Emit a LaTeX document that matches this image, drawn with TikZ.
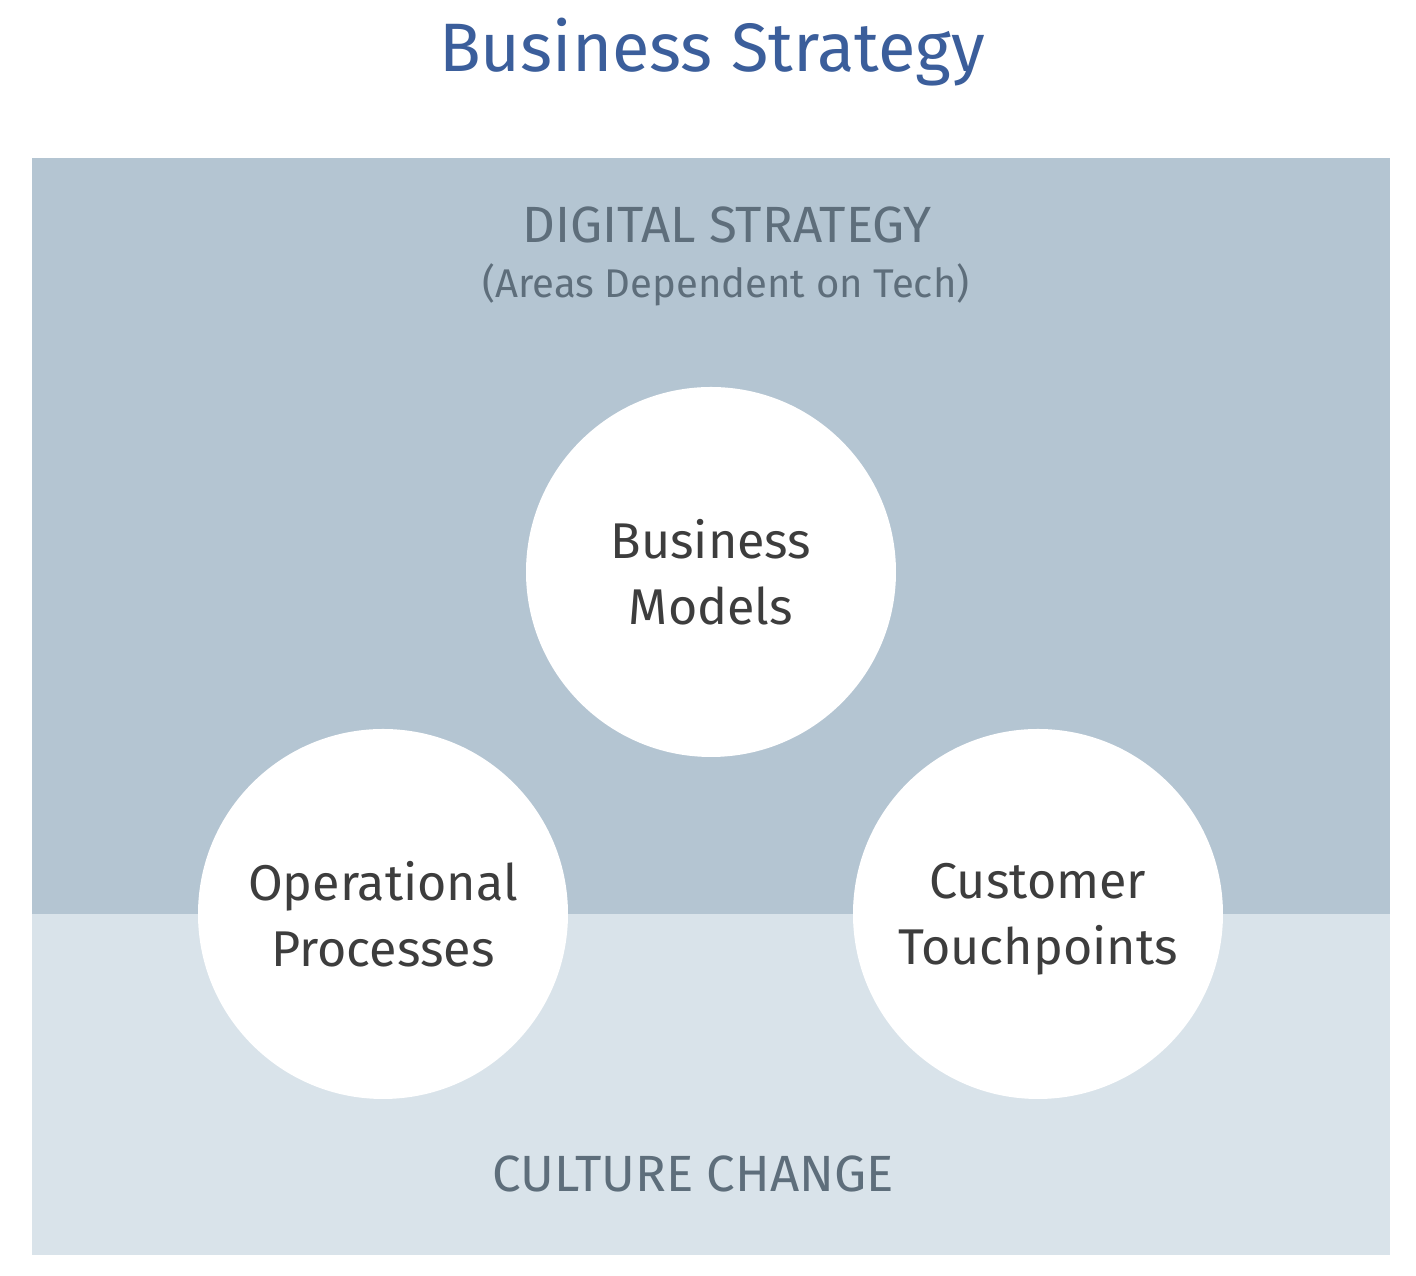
\documentclass[tikz,border=0pt]{standalone}
\usepackage{fontspec}
\setmainfont{Fira Sans}
\usetikzlibrary{positioning}
\definecolor{stratblue}{HTML}{3B5E9B}
\definecolor{digitalband}{HTML}{B4C5D2}
\definecolor{cultureband}{HTML}{D9E3EA}
\definecolor{labelgrey}{HTML}{5E6E7B}
\definecolor{circletext}{HTML}{3D3D3D}

\begin{document}
\begin{tikzpicture}
  \tikzset{
    area/.style={circle, fill=white, minimum size=3.7cm, inner sep=0pt,
      align=center, text=circletext, text depth=0pt,
      font=\fontsize{14.3}{18.8}\selectfont},
    bandlabel/.style={anchor=base, text=labelgrey}
  }
  \useasboundingbox (0,0) rectangle (14.16,12.76);
  \fill[white] (0,0) rectangle (14.16,12.76);

  % bands
  \fill[digitalband] (0.32,3.62) rectangle (13.90,11.18);
  \fill[cultureband] (0.32,0.21) rectangle (13.90,3.62);

  \node[anchor=base, text=stratblue, font=\fontsize{19.5}{23}\selectfont]
    (title) at (7.12,12.04) {Business Strategy};

  \node[bandlabel, font=\fontsize{14.5}{17}\selectfont]
    (digital) at (7.27,10.33) {DIGITAL STRATEGY};
  \node[bandlabel, font=\fontsize{11.4}{13}\selectfont]
    (tech) at (7.26,9.78) {(Areas Dependent on Tech)};

  \node[bandlabel, font=\fontsize{14.5}{17}\selectfont]
    (culture) at (6.93,0.84) {CULTURE CHANGE};

  % the three areas
  \node[area] (models) at (7.11,7.04) {Business\\Models};
  \node[area] (processes) at (3.83,3.62) {Operational\\Processes};
  \node[area] (touchpoints) at (10.38,3.62) {Customer\\Touchpoints};
\end{tikzpicture}
\end{document}
